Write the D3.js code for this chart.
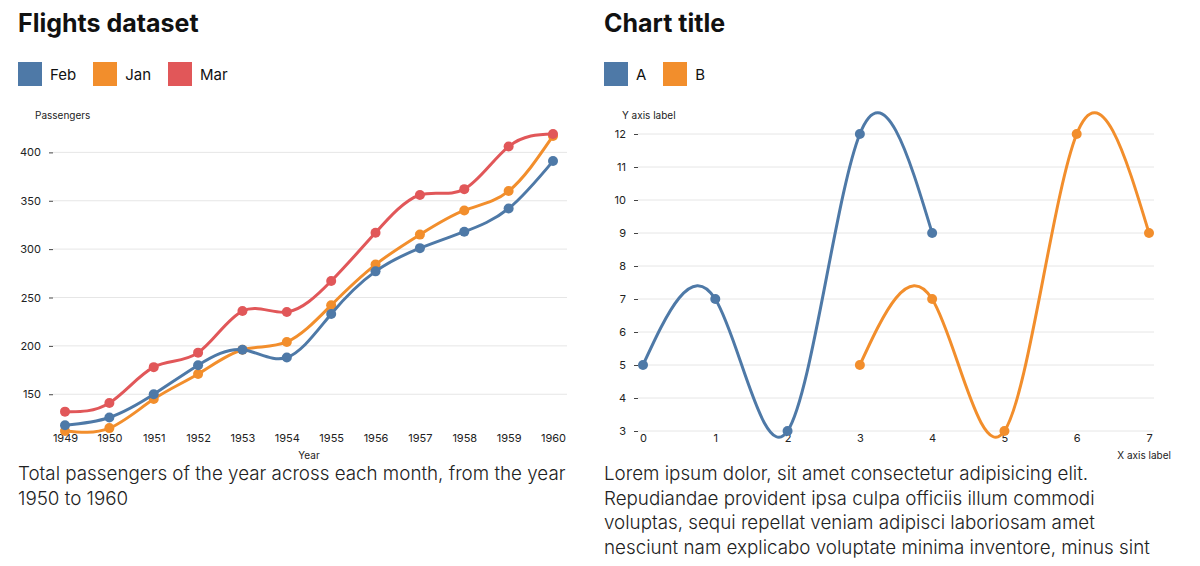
<!DOCTYPE html>
<html>
<head>
<meta charset="utf-8">
<script src="https://cdn.jsdelivr.net/npm/d3@7"></script>
<style>
    body { margin: 0; font-family: Inter, "Noto Sans", sans-serif; color: #111; background: #fff; }
    .panel { position: absolute; top: 0; width: 570px; }
    .panel h2 { position: absolute; top: 8px; left: 0; margin: 0; font-size: 25px; font-weight: 700; white-space: nowrap; }
    .legend { position: absolute; top: 62px; left: 0; display: flex; align-items: center; font-size: 15px; }
    .legend .item { display: flex; align-items: center; margin-right: 17px; }
    .legend .swatch { width: 24px; height: 24px; margin-right: 8px; }
    .panel p { position: absolute; top: 462px; left: 0; margin: 0; width: 562px; font-size: 18.8px; font-weight: 300; line-height: 24.7px; color: #222; }
    svg { position: absolute; left: 0; top: 0; }
    .tick text { font-family: Inter, "Noto Sans", sans-serif; font-size: 11px; fill: #222; }
    .axis-label { font-size: 10px; fill: #222; }
</style>
</head>
<body>
<svg id="chart" width="1200" height="566"></svg>
<div class="panel" id="left" style="left:18px">
    <h2>Flights dataset</h2>
    <div class="legend"></div>
    <p>Total passengers of the year across each month, from the year 1950 to 1960</p>
</div>
<div class="panel" id="right" style="left:604px">
    <h2>Chart title</h2>
    <div class="legend"></div>
    <p>Lorem ipsum dolor, sit amet consectetur adipisicing elit. Repudiandae provident ipsa culpa officiis illum commodi voluptas, sequi repellat veniam adipisci laboriosam amet nesciunt nam explicabo voluptate minima inventore, minus sint</p>
</div>
<script>
    /*global d3 */

    // Flights data (passengers per month)
    var years = [1949, 1950, 1951, 1952, 1953, 1954, 1955, 1956, 1957, 1958, 1959, 1960];
    var janValues = [112, 115, 145, 171, 196, 204, 242, 284, 315, 340, 360, 417];
    var febValues = [118, 126, 150, 180, 196, 188, 233, 277, 301, 318, 342, 391];
    var marValues = [132, 141, 178, 193, 236, 235, 267, 317, 356, 362, 406, 419];
    var monthNames = ["Jan", "Feb", "Mar"];

    // Second chart data
    var seriesNames = ["A", "B"];
    var aX = [0, 1, 2, 3, 4];
    var aY = [5, 7, 3, 12, 9];
    var bX = [3, 4, 5, 6, 7];
    var bY = [5, 7, 3, 12, 9];

    var svg = d3.select("#chart");

    function legend(sel, names, color) {
        var items = d3.select(sel).select(".legend").selectAll(".item")
            .data(names.slice().sort())
            .enter().append("div").attr("class", "item");
        items.append("div").attr("class", "swatch").style("background", function (d) { return color(d); });
        items.append("span").text(function (d) { return d; });
    }

    /**
     * Draw one line chart
     */
    function drawChart(opts) {
        var g = svg.append("g");
        var x = opts.x, y = opts.y;

        // grid lines
        g.append("g").selectAll("line")
            .data(y.ticks(opts.yTicks))
            .enter().append("line")
            .attr("x1", opts.gridX[0]).attr("x2", opts.gridX[1])
            .attr("y1", function (d) { return y(d); })
            .attr("y2", function (d) { return y(d); })
            .attr("stroke", "#e6e6e6");

        var yAxis = g.append("g")
            .attr("transform", "translate(" + opts.gridX[0] + ",0)")
            .call(d3.axisLeft(y).ticks(opts.yTicks).tickSize(4).tickPadding(8));
        yAxis.select(".domain").remove();
        yAxis.selectAll(".tick line").attr("stroke", "#444");

        var xAxis = g.append("g")
            .attr("transform", "translate(0," + opts.axisY + ")")
            .call(d3.axisBottom(x).tickValues(opts.xTicks).tickFormat(opts.xFormat).tickSize(0).tickPadding(3));
        xAxis.select(".domain").remove();

        g.append("text").attr("class", "axis-label")
            .attr("x", opts.yLabelX).attr("y", 119)
            .text(opts.yLabel);
        g.append("text").attr("class", "axis-label")
            .attr("x", opts.xLabelX).attr("y", 459)
            .attr("text-anchor", opts.xLabelAnchor)
            .text(opts.xLabel);

        var line = d3.line()
            .x(function (d) { return x(d[0]); })
            .y(function (d) { return y(d[1]); })
            .curve(d3.curveNatural);

        opts.series.forEach(function (s) {
            var sg = g.append("g");
            sg.append("path")
                .attr("d", line(s.points))
                .attr("fill", "none")
                .attr("stroke", opts.color(s.name))
                .attr("stroke-width", 3);
            sg.selectAll("circle")
                .data(s.points)
                .enter().append("circle")
                .attr("cx", function (d) { return x(d[0]); })
                .attr("cy", function (d) { return y(d[1]); })
                .attr("r", opts.r)
                .attr("fill", opts.color(s.name));
        });
    }

    // Left chart: flights
    var flightColor = d3.scaleOrdinal()
        .domain(monthNames.slice().sort())
        .range(["#4e79a7", "#f28e2c", "#e15759"]);
    var allValues = janValues.concat(febValues, marValues);
    drawChart({
        x: d3.scaleLinear().domain(d3.extent(years)).range([65, 553]),
        y: d3.scaleLinear().domain(d3.extent(allValues)).range([431, 134]),
        yTicks: 6,
        xTicks: years,
        xFormat: d3.format("d"),
        gridX: [53, 567],
        axisY: 431,
        yLabel: "Passengers", yLabelX: 35,
        xLabel: "Year", xLabelX: 309, xLabelAnchor: "middle",
        r: 5,
        color: flightColor,
        series: [
            { name: "Jan", points: years.map(function (yr, i) { return [yr, janValues[i]]; }) },
            { name: "Feb", points: years.map(function (yr, i) { return [yr, febValues[i]]; }) },
            { name: "Mar", points: years.map(function (yr, i) { return [yr, marValues[i]]; }) }
        ]
    });
    legend("#left", monthNames, flightColor);

    // Right chart
    var abColor = d3.scaleOrdinal().domain(seriesNames).range(["#4e79a7", "#f28e2c"]);
    drawChart({
        x: d3.scaleLinear().domain([0, 7]).range([643, 1149]),
        y: d3.scaleLinear().domain([3, 12]).range([431, 134]),
        yTicks: 10,
        xTicks: d3.range(0, 8),
        xFormat: d3.format("d"),
        gridX: [638, 1154],
        axisY: 431,
        yLabel: "Y axis label", yLabelX: 622,
        xLabel: "X axis label", xLabelX: 1171, xLabelAnchor: "end",
        r: 5,
        color: abColor,
        series: [
            { name: "A", points: aX.map(function (v, i) { return [v, aY[i]]; }) },
            { name: "B", points: bX.map(function (v, i) { return [v, bY[i]]; }) }
        ]
    });
    legend("#right", seriesNames, abColor);
</script>
</body>
</html>
